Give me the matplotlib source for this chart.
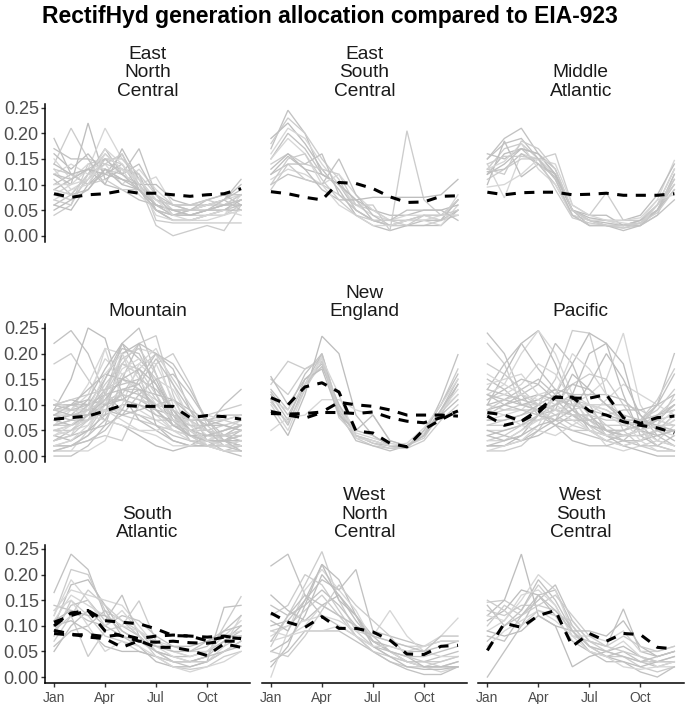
import matplotlib
matplotlib.use("Agg")
import matplotlib.pyplot as plt

plt.rcParams["font.family"] = ["Liberation Sans", "DejaVu Sans"]

# ---------------- data ----------------
months = list(range(1, 13))
month_ticks = [1, 4, 7, 10]
month_labels = ["Jan", "Apr", "Jul", "Oct"]
y_ticks = [0.00, 0.05, 0.10, 0.15, 0.20, 0.25]
y_labels = ["0.00", "0.05", "0.10", "0.15", "0.20", "0.25"]
title = "RectifHyd generation allocation compared to EIA-923"
regions = ["East\nNorth\nCentral", "East\nSouth\nCentral", "Middle\nAtlantic",
           "Mountain", "New\nEngland", "Pacific",
           "South\nAtlantic", "West\nNorth\nCentral", "West\nSouth\nCentral"]

enc_plants = [
    [0.19, 0.12, 0.10, 0.15, 0.12, 0.10, 0.06, 0.05, 0.05, 0.06, 0.06, 0.07],
    [0.14, 0.21, 0.15, 0.14, 0.13, 0.11, 0.06, 0.04, 0.04, 0.05, 0.05, 0.07],
    [0.12, 0.10, 0.22, 0.11, 0.13, 0.12, 0.05, 0.03, 0.03, 0.04, 0.05, 0.07],
    [0.08, 0.10, 0.13, 0.21, 0.15, 0.11, 0.07, 0.05, 0.04, 0.05, 0.06, 0.06],
    [0.06, 0.08, 0.12, 0.17, 0.12, 0.17, 0.08, 0.04, 0.04, 0.05, 0.05, 0.06],
    [0.04, 0.06, 0.14, 0.15, 0.14, 0.10, 0.02, 0.00, 0.01, 0.02, 0.01, 0.06],
    [0.16, 0.13, 0.16, 0.12, 0.16, 0.09, 0.05, 0.04, 0.05, 0.06, 0.07, 0.10],
    [0.13, 0.09, 0.11, 0.14, 0.10, 0.13, 0.09, 0.06, 0.05, 0.06, 0.06, 0.07],
    [0.10, 0.12, 0.10, 0.12, 0.14, 0.09, 0.06, 0.05, 0.05, 0.06, 0.07, 0.05],
    [0.07, 0.06, 0.12, 0.16, 0.13, 0.12, 0.03, 0.025, 0.025, 0.025, 0.025, 0.025],
    [0.09, 0.11, 0.13, 0.10, 0.17, 0.11, 0.07, 0.06, 0.06, 0.06, 0.07, 0.09],
    [0.15, 0.11, 0.14, 0.13, 0.11, 0.10, 0.115, 0.06, 0.05, 0.06, 0.07, 0.08],
    [0.11, 0.08, 0.09, 0.13, 0.12, 0.14, 0.08, 0.06, 0.05, 0.05, 0.07, 0.11],
    [0.08, 0.07, 0.11, 0.15, 0.15, 0.12, 0.08, 0.05, 0.04, 0.04, 0.04, 0.06],
    [0.06, 0.05, 0.10, 0.13, 0.11, 0.10, 0.10, 0.07, 0.06, 0.07, 0.08, 0.06],
    [0.12, 0.14, 0.12, 0.12, 0.13, 0.08, 0.05, 0.03, 0.03, 0.03, 0.04, 0.08],
    [0.17, 0.15, 0.15, 0.10, 0.09, 0.07, 0.06, 0.04, 0.05, 0.07, 0.08, 0.08],
    [0.13, 0.12, 0.10, 0.11, 0.09, 0.09, 0.07, 0.06, 0.06, 0.07, 0.06, 0.08],
    [0.05, 0.07, 0.09, 0.13, 0.10, 0.09, 0.05, 0.03, 0.03, 0.04, 0.05, 0.05],
    [0.10, 0.10, 0.11, 0.17, 0.14, 0.10, 0.04, 0.03, 0.03, 0.04, 0.05, 0.04],
    [0.12, 0.11, 0.13, 0.15, 0.12, 0.09, 0.05, 0.04, 0.04, 0.05, 0.06, 0.07],
    [0.09, 0.08, 0.12, 0.14, 0.16, 0.10, 0.06, 0.05, 0.05, 0.05, 0.06, 0.08],
    [0.14, 0.12, 0.13, 0.12, 0.11, 0.09, 0.06, 0.05, 0.04, 0.05, 0.06, 0.06],
    [0.07, 0.09, 0.10, 0.16, 0.13, 0.11, 0.07, 0.04, 0.03, 0.04, 0.04, 0.05],
]
enc_eia = [
    [0.082, 0.075, 0.080, 0.082, 0.088, 0.083, 0.083, 0.080, 0.077, 0.080, 0.082, 0.092],
]

esc_plants = [
    [0.17, 0.245, 0.20, 0.12, 0.10, 0.05, 0.03, 0.02, 0.02, 0.03, 0.03, 0.05],
    [0.18, 0.23, 0.20, 0.15, 0.11, 0.05, 0.03, 0.02, 0.02, 0.02, 0.03, 0.04],
    [0.19, 0.22, 0.18, 0.13, 0.09, 0.04, 0.02, 0.01, 0.02, 0.02, 0.02, 0.05],
    [0.16, 0.21, 0.19, 0.14, 0.10, 0.06, 0.04, 0.03, 0.03, 0.03, 0.02, 0.06],
    [0.15, 0.20, 0.17, 0.12, 0.10, 0.07, 0.03, 0.02, 0.03, 0.04, 0.03, 0.07],
    [0.14, 0.16, 0.14, 0.13, 0.12, 0.06, 0.05, 0.03, 0.03, 0.04, 0.04, 0.05],
    [0.12, 0.155, 0.13, 0.12, 0.10, 0.07, 0.05, 0.04, 0.04, 0.05, 0.05, 0.06],
    [0.11, 0.13, 0.12, 0.10, 0.12, 0.08, 0.05, 0.03, 0.04, 0.04, 0.03, 0.08],
    [0.10, 0.12, 0.11, 0.10, 0.15, 0.08, 0.04, 0.02, 0.03, 0.03, 0.03, 0.07],
    [0.09, 0.14, 0.11, 0.10, 0.08, 0.06, 0.06, 0.01, 0.205, 0.07, 0.04, 0.04],
    [0.13, 0.16, 0.13, 0.09, 0.07, 0.07, 0.075, 0.075, 0.075, 0.075, 0.08, 0.11],
    [0.15, 0.19, 0.16, 0.10, 0.06, 0.04, 0.02, 0.02, 0.03, 0.03, 0.04, 0.04],
    [0.12, 0.14, 0.14, 0.16, 0.08, 0.05, 0.03, 0.03, 0.05, 0.05, 0.05, 0.03],
    [0.10, 0.15, 0.16, 0.11, 0.07, 0.04, 0.03, 0.03, 0.02, 0.04, 0.04, 0.07],
]
esc_eia = [
    [0.086, 0.082, 0.075, 0.070, 0.104, 0.102, 0.092, 0.076, 0.065, 0.066, 0.077, 0.078],
]

ma_plants = [
    [0.15, 0.19, 0.21, 0.16, 0.12, 0.05, 0.03, 0.02, 0.02, 0.02, 0.05, 0.10],
    [0.13, 0.17, 0.18, 0.15, 0.11, 0.04, 0.02, 0.02, 0.015, 0.02, 0.04, 0.12],
    [0.12, 0.16, 0.17, 0.16, 0.13, 0.05, 0.03, 0.025, 0.02, 0.03, 0.06, 0.13],
    [0.14, 0.074, 0.16, 0.15, 0.12, 0.05, 0.03, 0.03, 0.02, 0.03, 0.07, 0.147],
    [0.16, 0.15, 0.17, 0.14, 0.10, 0.04, 0.03, 0.02, 0.02, 0.025, 0.05, 0.11],
    [0.11, 0.13, 0.15, 0.15, 0.16, 0.06, 0.04, 0.084, 0.03, 0.03, 0.06, 0.10],
    [0.10, 0.185, 0.115, 0.14, 0.12, 0.05, 0.04, 0.04, 0.02, 0.03, 0.05, 0.09],
    [0.13, 0.145, 0.18, 0.13, 0.10, 0.04, 0.03, 0.03, 0.025, 0.02, 0.06, 0.13],
    [0.125, 0.13, 0.16, 0.14, 0.115, 0.05, 0.02, 0.02, 0.02, 0.02, 0.05, 0.12],
    [0.14, 0.155, 0.155, 0.15, 0.09, 0.035, 0.025, 0.02, 0.015, 0.025, 0.045, 0.09],
    [0.12, 0.14, 0.17, 0.16, 0.12, 0.05, 0.035, 0.03, 0.03, 0.04, 0.08, 0.14],
    [0.095, 0.10, 0.12, 0.15, 0.14, 0.06, 0.04, 0.03, 0.03, 0.035, 0.07, 0.08],
    [0.15, 0.18, 0.19, 0.15, 0.11, 0.04, 0.02, 0.02, 0.01, 0.02, 0.04, 0.07],
    [0.13, 0.12, 0.185, 0.17, 0.13, 0.05, 0.03, 0.02, 0.02, 0.025, 0.06, 0.11],
]
ma_eia = [
    [0.085, 0.080, 0.084, 0.085, 0.085, 0.080, 0.081, 0.083, 0.079, 0.079, 0.079, 0.082],
]

mtn_plants = [
    [0.22, 0.245, 0.20, 0.12, 0.09, 0.08, 0.06, 0.04, 0.03, 0.03, 0.04, 0.05],
    [0.18, 0.20, 0.15, 0.10, 0.08, 0.07, 0.06, 0.05, 0.04, 0.03, 0.03, 0.03],
    [0.09, 0.15, 0.25, 0.23, 0.12, 0.07, 0.05, 0.03, 0.02, 0.02, 0.02, 0.03],
    [0.06, 0.09, 0.14, 0.21, 0.20, 0.12, 0.08, 0.05, 0.04, 0.03, 0.03, 0.04],
    [0.03, 0.05, 0.08, 0.15, 0.22, 0.25, 0.16, 0.08, 0.03, 0.02, 0.01, 0.02],
    [0.02, 0.03, 0.05, 0.10, 0.18, 0.22, 0.235, 0.12, 0.04, 0.02, 0.01, 0.01],
    [0.05, 0.06, 0.08, 0.12, 0.22, 0.19, 0.15, 0.08, 0.05, 0.03, 0.02, 0.02],
    [0.08, 0.09, 0.12, 0.19, 0.16, 0.13, 0.09, 0.05, 0.03, 0.03, 0.04, 0.06],
    [0.10, 0.11, 0.10, 0.11, 0.11, 0.10, 0.08, 0.07, 0.06, 0.06, 0.07, 0.08],
    [0.09, 0.10, 0.09, 0.09, 0.09, 0.08, 0.07, 0.07, 0.07, 0.08, 0.09, 0.10],
    [0.07, 0.08, 0.08, 0.08, 0.10, 0.10, 0.09, 0.08, 0.07, 0.07, 0.08, 0.08],
    [0.01, 0.01, 0.05, 0.12, 0.20, 0.21, 0.20, 0.10, 0.05, 0.02, 0.01, 0.01],
    [0.00, 0.00, 0.02, 0.06, 0.15, 0.22, 0.20, 0.17, 0.09, 0.03, 0.01, 0.00],
    [0.01, 0.02, 0.04, 0.09, 0.12, 0.17, 0.20, 0.15, 0.10, 0.05, 0.03, 0.02],
    [0.10, 0.10, 0.10, 0.07, 0.06, 0.04, 0.02, 0.01, 0.02, 0.04, 0.05, 0.06],
    [0.04, 0.05, 0.06, 0.10, 0.16, 0.18, 0.15, 0.13, 0.07, 0.04, 0.03, 0.02],
    [0.06, 0.07, 0.09, 0.13, 0.14, 0.15, 0.13, 0.09, 0.05, 0.03, 0.03, 0.04],
    [0.02, 0.02, 0.03, 0.04, 0.03, 0.10, 0.18, 0.20, 0.14, 0.06, 0.03, 0.02],
    [0.08, 0.07, 0.07, 0.09, 0.08, 0.09, 0.10, 0.11, 0.09, 0.07, 0.06, 0.05],
    [0.05, 0.04, 0.10, 0.21, 0.11, 0.09, 0.07, 0.05, 0.04, 0.04, 0.05, 0.07],
    [0.03, 0.04, 0.05, 0.06, 0.08, 0.12, 0.15, 0.16, 0.12, 0.07, 0.04, 0.03],
    [0.10, 0.11, 0.12, 0.13, 0.15, 0.13, 0.10, 0.07, 0.05, 0.05, 0.06, 0.07],
    [0.07, 0.08, 0.11, 0.17, 0.22, 0.16, 0.06, 0.03, 0.02, 0.02, 0.03, 0.05],
    [0.01, 0.01, 0.01, 0.03, 0.10, 0.18, 0.21, 0.14, 0.07, 0.02, 0.01, 0.01],
    [0.09, 0.10, 0.11, 0.10, 0.12, 0.11, 0.09, 0.06, 0.05, 0.06, 0.10, 0.13],
    [0.06, 0.06, 0.07, 0.10, 0.13, 0.13, 0.11, 0.09, 0.07, 0.07, 0.07, 0.06],
    [0.04, 0.03, 0.05, 0.08, 0.20, 0.22, 0.12, 0.06, 0.04, 0.03, 0.03, 0.02],
    [0.11, 0.09, 0.08, 0.07, 0.06, 0.05, 0.04, 0.02, 0.02, 0.03, 0.05, 0.06],
    [0.02, 0.02, 0.04, 0.07, 0.13, 0.14, 0.19, 0.14, 0.09, 0.05, 0.02, 0.01],
    [0.08, 0.08, 0.09, 0.14, 0.18, 0.17, 0.12, 0.07, 0.03, 0.02, 0.03, 0.04],
    [0.09, 0.08, 0.08, 0.10, 0.11, 0.13, 0.12, 0.11, 0.08, 0.06, 0.06, 0.05],
    [0.05, 0.06, 0.07, 0.09, 0.07, 0.05, 0.05, 0.06, 0.07, 0.08, 0.07, 0.08],
    [0.06, 0.07, 0.10, 0.15, 0.21, 0.20, 0.14, 0.07, 0.04, 0.03, 0.03, 0.04],
    [0.03, 0.04, 0.07, 0.13, 0.19, 0.21, 0.16, 0.09, 0.04, 0.02, 0.02, 0.02],
    [0.08, 0.10, 0.13, 0.16, 0.15, 0.14, 0.09, 0.06, 0.04, 0.04, 0.05, 0.06],
    [0.02, 0.03, 0.06, 0.11, 0.17, 0.19, 0.18, 0.11, 0.06, 0.03, 0.02, 0.02],
    [0.10, 0.09, 0.10, 0.12, 0.13, 0.12, 0.10, 0.07, 0.05, 0.04, 0.04, 0.06],
    [0.05, 0.05, 0.07, 0.12, 0.18, 0.16, 0.11, 0.08, 0.06, 0.05, 0.04, 0.04],
    [0.07, 0.06, 0.08, 0.11, 0.15, 0.17, 0.14, 0.09, 0.05, 0.03, 0.03, 0.03],
    [0.04, 0.06, 0.09, 0.16, 0.20, 0.15, 0.10, 0.07, 0.05, 0.03, 0.02, 0.03],
    [0.01, 0.02, 0.03, 0.05, 0.09, 0.15, 0.20, 0.18, 0.13, 0.07, 0.03, 0.01],
    [0.09, 0.09, 0.09, 0.11, 0.12, 0.11, 0.10, 0.09, 0.07, 0.05, 0.04, 0.05],
]
mtn_eia = [
    [0.072, 0.075, 0.078, 0.088, 0.099, 0.097, 0.097, 0.097, 0.075, 0.079, 0.077, 0.072],
]

ne_plants = [
    [0.13, 0.09, 0.16, 0.20, 0.09, 0.04, 0.03, 0.02, 0.02, 0.04, 0.09, 0.15],
    [0.15, 0.12, 0.17, 0.19, 0.08, 0.035, 0.02, 0.015, 0.02, 0.05, 0.10, 0.17],
    [0.12, 0.07, 0.15, 0.18, 0.10, 0.04, 0.025, 0.02, 0.02, 0.04, 0.08, 0.14],
    [0.10, 0.05, 0.13, 0.195, 0.095, 0.045, 0.035, 0.025, 0.02, 0.045, 0.09, 0.13],
    [0.11, 0.06, 0.14, 0.20, 0.085, 0.03, 0.02, 0.01, 0.02, 0.04, 0.11, 0.198],
    [0.14, 0.185, 0.17, 0.185, 0.075, 0.04, 0.03, 0.02, 0.02, 0.035, 0.085, 0.12],
    [0.09, 0.04, 0.12, 0.234, 0.20, 0.08, 0.04, 0.02, 0.02, 0.04, 0.08, 0.11],
    [0.05, 0.075, 0.08, 0.11, 0.11, 0.09, 0.08, 0.03, 0.02, 0.04, 0.09, 0.12],
    [0.125, 0.08, 0.14, 0.175, 0.10, 0.05, 0.04, 0.02, 0.015, 0.05, 0.10, 0.16],
    [0.105, 0.065, 0.13, 0.185, 0.09, 0.04, 0.025, 0.015, 0.015, 0.03, 0.07, 0.10],
    [0.155, 0.10, 0.15, 0.17, 0.08, 0.05, 0.08, 0.03, 0.02, 0.04, 0.09, 0.14],
    [0.11, 0.09, 0.14, 0.19, 0.12, 0.035, 0.03, 0.02, 0.025, 0.055, 0.10, 0.15],
]
ne_eia = [
    [0.114, 0.100, 0.135, 0.143, 0.125, 0.049, 0.045, 0.025, 0.018, 0.052, 0.071, 0.088],
    [0.083, 0.082, 0.083, 0.086, 0.105, 0.100, 0.097, 0.090, 0.080, 0.080, 0.080, 0.078],
    [0.087, 0.080, 0.074, 0.085, 0.085, 0.083, 0.086, 0.075, 0.068, 0.065, 0.075, 0.088],
]

pac_plants = [
    [0.24, 0.20, 0.12, 0.08, 0.06, 0.05, 0.04, 0.03, 0.04, 0.05, 0.08, 0.10],
    [0.22, 0.18, 0.10, 0.09, 0.07, 0.05, 0.05, 0.04, 0.05, 0.06, 0.07, 0.08],
    [0.10, 0.16, 0.22, 0.245, 0.18, 0.10, 0.05, 0.03, 0.02, 0.03, 0.04, 0.05],
    [0.12, 0.14, 0.20, 0.245, 0.20, 0.12, 0.06, 0.02, 0.01, 0.02, 0.03, 0.06],
    [0.08, 0.10, 0.12, 0.14, 0.22, 0.18, 0.10, 0.05, 0.03, 0.02, 0.02, 0.04],
    [0.03, 0.04, 0.06, 0.10, 0.15, 0.245, 0.24, 0.12, 0.05, 0.02, 0.01, 0.01],
    [0.02, 0.02, 0.04, 0.08, 0.12, 0.18, 0.24, 0.22, 0.12, 0.04, 0.02, 0.01],
    [0.05, 0.05, 0.06, 0.07, 0.08, 0.10, 0.12, 0.15, 0.24, 0.10, 0.05, 0.04],
    [0.13, 0.12, 0.11, 0.10, 0.09, 0.08, 0.06, 0.05, 0.05, 0.07, 0.10, 0.20],
    [0.10, 0.09, 0.09, 0.09, 0.10, 0.11, 0.10, 0.09, 0.07, 0.06, 0.08, 0.11],
    [0.09, 0.10, 0.11, 0.12, 0.11, 0.10, 0.09, 0.08, 0.07, 0.07, 0.08, 0.09],
    [0.07, 0.08, 0.09, 0.12, 0.13, 0.12, 0.10, 0.08, 0.06, 0.05, 0.06, 0.06],
    [0.15, 0.13, 0.10, 0.09, 0.06, 0.03, 0.02, 0.02, 0.03, 0.06, 0.10, 0.16],
    [0.01, 0.01, 0.02, 0.05, 0.10, 0.14, 0.16, 0.15, 0.10, 0.05, 0.02, 0.01],
    [0.02, 0.02, 0.03, 0.04, 0.06, 0.08, 0.08, 0.04, 0.02, 0.01, 0.00, 0.00],
    [0.11, 0.12, 0.14, 0.18, 0.16, 0.11, 0.07, 0.04, 0.03, 0.03, 0.05, 0.07],
    [0.13, 0.18, 0.22, 0.17, 0.13, 0.09, 0.06, 0.04, 0.03, 0.03, 0.05, 0.08],
    [0.06, 0.06, 0.07, 0.07, 0.08, 0.09, 0.10, 0.10, 0.10, 0.09, 0.07, 0.06],
    [0.04, 0.05, 0.06, 0.08, 0.09, 0.16, 0.13, 0.10, 0.08, 0.07, 0.06, 0.05],
    [0.09, 0.08, 0.06, 0.05, 0.04, 0.06, 0.08, 0.11, 0.14, 0.12, 0.10, 0.08],
    [0.12, 0.11, 0.13, 0.15, 0.12, 0.09, 0.07, 0.05, 0.04, 0.04, 0.05, 0.05],
    [0.08, 0.09, 0.10, 0.10, 0.09, 0.08, 0.07, 0.06, 0.06, 0.07, 0.11, 0.17],
    [0.05, 0.04, 0.03, 0.05, 0.07, 0.12, 0.20, 0.22, 0.18, 0.06, 0.03, 0.02],
    [0.14, 0.15, 0.16, 0.12, 0.10, 0.08, 0.05, 0.03, 0.02, 0.03, 0.05, 0.07],
    [0.02, 0.03, 0.05, 0.08, 0.10, 0.12, 0.12, 0.12, 0.11, 0.08, 0.04, 0.02],
    [0.06, 0.07, 0.08, 0.09, 0.11, 0.11, 0.09, 0.06, 0.04, 0.04, 0.05, 0.08],
    [0.10, 0.11, 0.10, 0.11, 0.13, 0.12, 0.08, 0.05, 0.04, 0.05, 0.07, 0.10],
    [0.03, 0.03, 0.05, 0.07, 0.09, 0.10, 0.10, 0.09, 0.07, 0.05, 0.03, 0.02],
    [0.11, 0.13, 0.15, 0.14, 0.11, 0.08, 0.06, 0.05, 0.05, 0.06, 0.07, 0.10],
    [0.18, 0.16, 0.13, 0.10, 0.08, 0.06, 0.05, 0.04, 0.04, 0.05, 0.06, 0.12],
    [0.07, 0.07, 0.08, 0.10, 0.12, 0.14, 0.13, 0.10, 0.07, 0.05, 0.04, 0.05],
    [0.01, 0.02, 0.03, 0.06, 0.12, 0.20, 0.17, 0.12, 0.07, 0.03, 0.01, 0.01],
    [0.12, 0.10, 0.09, 0.08, 0.07, 0.07, 0.07, 0.08, 0.09, 0.09, 0.10, 0.12],
    [0.09, 0.11, 0.12, 0.10, 0.09, 0.08, 0.08, 0.07, 0.07, 0.07, 0.09, 0.13],
    [0.04, 0.03, 0.04, 0.06, 0.07, 0.09, 0.14, 0.20, 0.15, 0.08, 0.05, 0.03],
    [0.16, 0.14, 0.12, 0.11, 0.09, 0.07, 0.05, 0.04, 0.04, 0.05, 0.06, 0.09],
]
pac_eia = [
    [0.085, 0.080, 0.068, 0.090, 0.115, 0.113, 0.113, 0.120, 0.075, 0.064, 0.075, 0.078],
    [0.078, 0.060, 0.068, 0.085, 0.115, 0.115, 0.088, 0.080, 0.067, 0.060, 0.055, 0.045],
]

sa_plants = [
    [0.165, 0.24, 0.21, 0.12, 0.10, 0.08, 0.05, 0.04, 0.04, 0.05, 0.07, 0.09],
    [0.12, 0.21, 0.20, 0.13, 0.11, 0.09, 0.05, 0.03, 0.03, 0.04, 0.10, 0.157],
    [0.10, 0.18, 0.19, 0.14, 0.09, 0.07, 0.05, 0.04, 0.03, 0.04, 0.07, 0.10],
    [0.13, 0.17, 0.16, 0.15, 0.14, 0.10, 0.06, 0.04, 0.03, 0.03, 0.06, 0.12],
    [0.09, 0.14, 0.15, 0.11, 0.16, 0.08, 0.05, 0.03, 0.02, 0.03, 0.136, 0.14],
    [0.07, 0.12, 0.04, 0.09, 0.10, 0.149, 0.07, 0.05, 0.04, 0.05, 0.06, 0.08],
    [0.05, 0.10, 0.13, 0.10, 0.08, 0.06, 0.03, 0.02, 0.02, 0.03, 0.05, 0.07],
    [0.11, 0.16, 0.14, 0.12, 0.10, 0.09, 0.07, 0.06, 0.05, 0.05, 0.08, 0.11],
    [0.14, 0.13, 0.11, 0.10, 0.12, 0.11, 0.08, 0.06, 0.05, 0.06, 0.09, 0.10],
    [0.08, 0.15, 0.12, 0.08, 0.07, 0.05, 0.04, 0.02, 0.015, 0.02, 0.04, 0.05],
    [0.10, 0.11, 0.09, 0.06, 0.05, 0.05, 0.04, 0.03, 0.03, 0.04, 0.05, 0.06],
    [0.12, 0.19, 0.15, 0.10, 0.13, 0.09, 0.06, 0.05, 0.04, 0.05, 0.08, 0.09],
    [0.06, 0.09, 0.10, 0.13, 0.08, 0.07, 0.06, 0.05, 0.05, 0.07, 0.09, 0.12],
    [0.09, 0.12, 0.17, 0.14, 0.11, 0.08, 0.04, 0.03, 0.03, 0.03, 0.05, 0.07],
    [0.11, 0.13, 0.12, 0.12, 0.09, 0.07, 0.06, 0.06, 0.06, 0.07, 0.08, 0.08],
    [0.13, 0.15, 0.10, 0.05, 0.07, 0.06, 0.04, 0.02, 0.01, 0.02, 0.03, 0.05],
]
sa_eia = [
    [0.107, 0.120, 0.130, 0.110, 0.107, 0.104, 0.094, 0.081, 0.080, 0.071, 0.078, 0.075],
    [0.091, 0.084, 0.078, 0.075, 0.058, 0.071, 0.058, 0.058, 0.052, 0.042, 0.065, 0.058],
    [0.085, 0.082, 0.083, 0.079, 0.083, 0.075, 0.080, 0.082, 0.080, 0.078, 0.080, 0.075],
    [0.100, 0.125, 0.130, 0.090, 0.080, 0.070, 0.068, 0.070, 0.067, 0.066, 0.070, 0.070],
]

wnc_plants = [
    [0.217, 0.24, 0.16, 0.12, 0.10, 0.08, 0.06, 0.05, 0.03, 0.03, 0.04, 0.05],
    [0.06, 0.12, 0.18, 0.245, 0.15, 0.09, 0.06, 0.04, 0.03, 0.02, 0.02, 0.03],
    [0.02, 0.06, 0.14, 0.22, 0.19, 0.12, 0.08, 0.05, 0.03, 0.02, 0.02, 0.03],
    [0.00, 0.09, 0.17, 0.21, 0.17, 0.13, 0.07, 0.05, 0.03, 0.02, 0.01, 0.02],
    [0.10, 0.11, 0.15, 0.19, 0.17, 0.21, 0.09, 0.08, 0.07, 0.06, 0.07, 0.07],
    [0.12, 0.14, 0.20, 0.18, 0.13, 0.08, 0.05, 0.03, 0.02, 0.02, 0.03, 0.04],
    [0.16, 0.13, 0.11, 0.14, 0.16, 0.12, 0.07, 0.06, 0.05, 0.05, 0.06, 0.07],
    [0.07, 0.08, 0.10, 0.14, 0.12, 0.10, 0.08, 0.13, 0.08, 0.05, 0.04, 0.04],
    [0.03, 0.05, 0.09, 0.09, 0.09, 0.07, 0.05, 0.03, 0.015, 0.005, 0.005, 0.02],
    [0.09, 0.10, 0.13, 0.16, 0.12, 0.08, 0.05, 0.04, 0.03, 0.03, 0.02, 0.02],
    [0.05, 0.07, 0.12, 0.20, 0.16, 0.11, 0.07, 0.05, 0.04, 0.02, 0.02, 0.02],
    [0.08, 0.10, 0.11, 0.12, 0.11, 0.09, 0.08, 0.07, 0.06, 0.06, 0.07, 0.07],
    [0.14, 0.12, 0.14, 0.17, 0.14, 0.10, 0.07, 0.05, 0.04, 0.04, 0.05, 0.06],
    [0.05, 0.04, 0.08, 0.13, 0.18, 0.14, 0.11, 0.08, 0.04, 0.03, 0.03, 0.04],
    [0.11, 0.09, 0.15, 0.22, 0.15, 0.12, 0.06, 0.04, 0.02, 0.015, 0.015, 0.02],
    [0.09, 0.08, 0.09, 0.09, 0.10, 0.08, 0.06, 0.06, 0.05, 0.06, 0.08, 0.115],
    [0.07, 0.12, 0.16, 0.14, 0.12, 0.10, 0.08, 0.07, 0.06, 0.05, 0.08, 0.08],
]
wnc_eia = [
    [0.125, 0.107, 0.097, 0.118, 0.095, 0.095, 0.088, 0.072, 0.045, 0.044, 0.060, 0.062],
]

wsc_plants = [
    [0.00, 0.05, 0.10, 0.16, 0.17, 0.10, 0.06, 0.04, 0.05, 0.03, 0.02, 0.03],
    [0.146, 0.15, 0.13, 0.18, 0.14, 0.08, 0.07, 0.05, 0.04, 0.03, 0.03, 0.04],
    [0.12, 0.15, 0.24, 0.12, 0.10, 0.02, 0.04, 0.05, 0.06, 0.04, 0.03, 0.03],
    [0.09, 0.11, 0.15, 0.20, 0.17, 0.09, 0.06, 0.05, 0.07, 0.04, 0.02, 0.02],
    [0.08, 0.07, 0.12, 0.15, 0.18, 0.11, 0.07, 0.06, 0.133, 0.05, 0.04, 0.05],
    [0.13, 0.12, 0.14, 0.14, 0.13, 0.10, 0.06, 0.04, 0.04, 0.02, 0.01, 0.02],
    [0.11, 0.13, 0.17, 0.16, 0.12, 0.07, 0.05, 0.04, 0.03, 0.02, 0.03, 0.04],
    [0.06, 0.09, 0.11, 0.13, 0.11, 0.08, 0.08, 0.07, 0.09, 0.05, 0.05, 0.06],
    [0.14, 0.10, 0.13, 0.19, 0.15, 0.09, 0.05, 0.03, 0.03, 0.01, 0.00, 0.02],
    [0.10, 0.14, 0.12, 0.14, 0.16, 0.12, 0.08, 0.06, 0.05, 0.04, 0.03, 0.03],
    [0.09, 0.08, 0.09, 0.12, 0.10, 0.09, 0.09, 0.08, 0.11, 0.06, 0.04, 0.05],
    [0.12, 0.11, 0.16, 0.17, 0.14, 0.08, 0.05, 0.04, 0.02, 0.015, 0.02, 0.03],
    [0.07, 0.10, 0.12, 0.16, 0.13, 0.09, 0.06, 0.05, 0.04, 0.03, 0.04, 0.05],
    [0.15, 0.13, 0.10, 0.13, 0.12, 0.11, 0.07, 0.06, 0.08, 0.06, 0.05, 0.06],
]
wsc_eia = [
    [0.052, 0.105, 0.097, 0.120, 0.130, 0.060, 0.085, 0.070, 0.085, 0.083, 0.058, 0.055],
]

panel_plants = [enc_plants, esc_plants, ma_plants, mtn_plants, ne_plants,
                pac_plants, sa_plants, wnc_plants, wsc_plants]
panel_eia = [enc_eia, esc_eia, ma_eia, mtn_eia, ne_eia, pac_eia,
             sa_eia, wnc_eia, wsc_eia]

# ---------------- layout ----------------
W, H = 685, 704
fig = plt.figure(figsize=(W / 100, H / 100), dpi=100)
col_left = [44.7, 261.6, 478.0]
row_top = [104.0, 324.3, 545.3]
pw, ph = 205.7, 138.0
gray_shades = ["#C2C2C2", "#CCCCCC", "#BEBEBE", "#D6D6D6"]

fig.text(42.0 / W, 1 - 16.5 / H, title, fontsize=16.5, fontweight="bold",
         ha="left", va="center", color="black")

for i in range(9):
    r, c = divmod(i, 3)
    ax = fig.add_axes([col_left[c] / W, 1 - (row_top[r] + ph) / H, pw / W, ph / H])
    for j, series in enumerate(panel_plants[i]):
        ax.plot(months, series, color=gray_shades[j % len(gray_shades)],
                lw=0.95, solid_joinstyle="miter", zorder=2)
    for series in panel_eia[i]:
        ax.plot(months, series, color="black", lw=2.2,
                linestyle=(0, (3.3, 2.8)), dash_capstyle="butt", zorder=3)
    ax.set_xlim(0.45, 12.55)
    ax.set_ylim(-0.0122, 0.2572)
    for s in ["top", "right"]:
        ax.spines[s].set_visible(False)
    ax.spines["left"].set_visible(c == 0)
    ax.spines["bottom"].set_visible(r == 2)
    for s in ["left", "bottom"]:
        ax.spines[s].set_linewidth(1.1)
        ax.spines[s].set_color("black")
    if c == 0:
        ax.set_yticks(y_ticks)
        ax.set_yticklabels(y_labels)
        ax.tick_params(axis="y", length=3.0, width=1.0, pad=1.2,
                       labelsize=13, labelcolor="#4D4D4D", color="#333333")
    else:
        ax.set_yticks([])
    if r == 2:
        ax.set_xticks(month_ticks)
        ax.set_xticklabels(month_labels)
        ax.tick_params(axis="x", length=2.6, width=1.0, pad=3.0,
                       labelsize=10, labelcolor="#4D4D4D", color="#333333")
    else:
        ax.set_xticks([])
    ax.annotate(regions[i], xy=(0.5, 1.0), xycoords="axes fraction",
                xytext=(0, 3.0), textcoords="offset points",
                ha="center", va="bottom", fontsize=13.8, color="#1A1A1A",
                linespacing=1.12, annotation_clip=False)

fig.savefig("out.png", dpi=100)
